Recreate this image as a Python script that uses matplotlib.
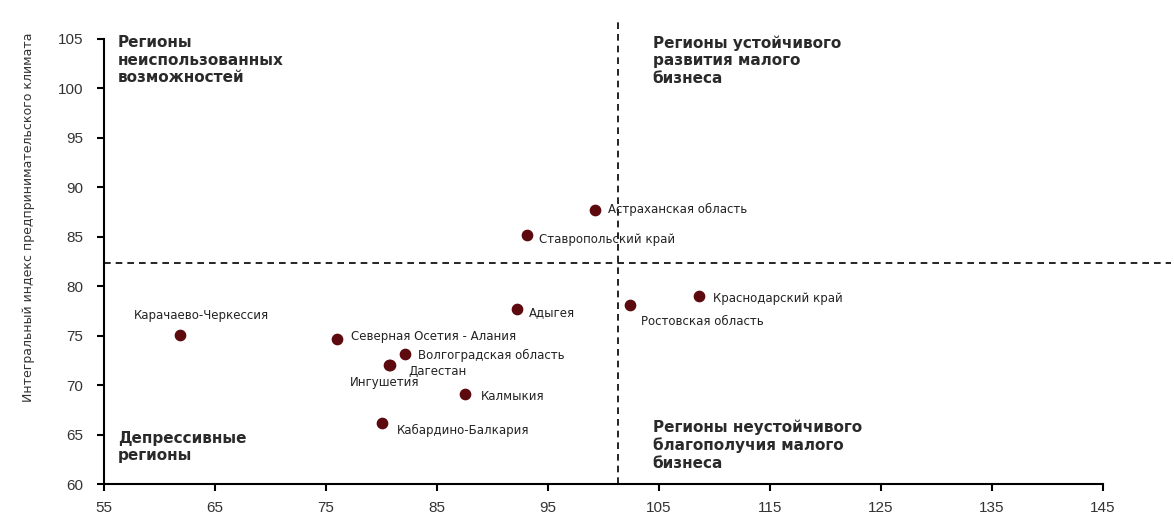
import matplotlib.pyplot as plt

plt.rcParams['font.family'] = ['Liberation Sans', 'DejaVu Sans']

# regions: business climate index (y) vs second index (x)
regions = ["Астраханская область", "Ставропольский край", "Адыгея",
           "Ростовская область", "Краснодарский край", "Волгоградская область",
           "Дагестан", "Ингушетия", "Калмыкия", "Кабардино-Балкария",
           "Северная Осетия - Алания", "Карачаево-Черкессия"]
x_vals = [99.2, 93.1, 92.2, 102.4, 108.6, 82.1, 80.8, 80.7, 87.5, 80.0, 76.0, 61.8]
y_vals = [87.7, 85.2, 77.7, 78.1, 79.0, 73.1, 72.0, 72.0, 69.1, 66.2, 74.7, 75.1]

# label offsets in pixels relative to the dot
offsets = [(13, 1), (12, -5), (12, -4), (11, -17), (14, -2), (13, -1),
           (18, -6), (-5, -17), (16, -3), (15, -8), (14, 2), (22, 19)]
aligns = ["left", "left", "left", "left", "left", "left",
          "left", "center", "left", "left", "left", "center"]

x_split = 101.3
y_split = 82.3

fig = plt.figure(figsize=(11.74, 5.18), dpi=100)
ax = fig.add_axes([0.0886, 0.0656, 0.851, 0.8594])

ax.scatter(x_vals, y_vals, s=55, color='#5c0a0e', zorder=3)

for name, x, y, off, ha in zip(regions, x_vals, y_vals, offsets, aligns):
    ax.annotate(name, (x, y), xytext=off, textcoords='offset pixels',
                ha=ha, va='center', fontsize=8.5, color='#222222',
                family='DejaVu Sans')

ax.axhline(y_split, xmin=0, xmax=1.068, color='black', ls=(0, (4, 3)), lw=1.2, clip_on=False)
ax.axvline(x_split, ymin=0, ymax=1.045, color='black', ls=(0, (4, 3)), lw=1.2, clip_on=False)

quad_style = dict(transform=ax.transAxes, fontsize=11, fontweight='bold',
                  color='#2a2a2a', va='top', ha='left', linespacing=1.2,
                  family='DejaVu Sans')
ax.text(0.014, 1.008, "Регионы\nнеиспользованных\nвозможностей", **quad_style)
ax.text(0.549, 1.008, "Регионы устойчивого\nразвития малого\nбизнеса", **quad_style)
ax.text(0.014, 0.12, "Депрессивные\nрегионы", **quad_style)
ax.text(0.549, 0.145, "Регионы неустойчивого\nблагополучия малого\nбизнеса", **quad_style)

ax.set_xlim(55, 145)
ax.set_ylim(60, 105)
ax.set_xticks(range(55, 146, 10))
ax.set_yticks(range(60, 106, 5))
ax.spines['top'].set_visible(False)
ax.spines['right'].set_visible(False)
ax.spines['left'].set_linewidth(1.5)
ax.spines['bottom'].set_linewidth(1.5)
ax.tick_params(direction='out', length=5, width=1.5, labelsize=11,
               labelcolor='#333333')
ax.tick_params(axis='x', pad=7)
ax.tick_params(axis='y', pad=10)

fig.text(0.024, 0.58, "Интегральный индекс предпринимательского климата",
         rotation=90, ha='center', va='center', fontsize=9, color='#333333',
         family='DejaVu Sans')

plt.savefig('out.png', dpi=100)
